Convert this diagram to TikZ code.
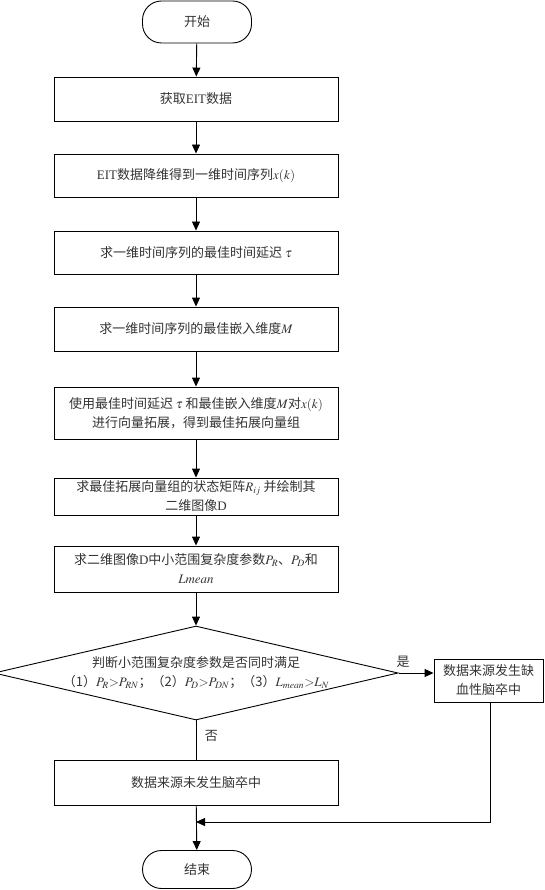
\documentclass[tikz,border=0pt]{standalone}
\usepackage{mathptmx}
\usepackage{fontspec}
\setmainfont{Liberation Serif}
\newfontfamily\cjk{Noto Sans CJK SC}
\usetikzlibrary{shapes.geometric}
\usetikzlibrary{arrows.meta}
\newcommand{\latn}[1]{{\rmfamily #1}}

\begin{document}
\begin{tikzpicture}[x=1pt,y=1pt,line width=0.9pt,
  box/.style={rectangle,draw,minimum width=284pt,align=center,inner sep=2pt,font=\cjk\fontsize{13}{19}\selectfont,text=black!80},
  term/.style={rectangle,rounded corners=19pt,draw,minimum width=109pt,font=\cjk\fontsize{13}{16}\selectfont,text=black!80},
  check/.style={diamond,draw,shape aspect=4.3,inner sep=0pt,minimum width=388pt,minimum height=90pt,align=center,font=\cjk\fontsize{13}{19}\selectfont,text=black!80},
  lbl/.style={font=\cjk\fontsize{13}{16}\selectfont,text=black!80},
  arr/.style={-{Triangle[length=9pt,width=8pt]}}]
\useasboundingbox (0,0) rectangle (545,-890);

\node [term,minimum height=42pt] (start) at (197,-22) {开始};
\node [box,minimum height=44pt] (get) at (196,-99) {获取\latn{EIT}数据};
\node [box,minimum height=43pt] (reduce) at (196,-175.5) {\latn{EIT}数据降维得到一维时间序列$x(k)$};
\node [box,minimum height=43pt] (tau) at (196,-252.5) {求一维时间序列的最佳时间延迟 $\tau$};
\node [box,minimum height=44pt] (dim) at (196,-329) {求一维时间序列的最佳嵌入维度$M$};
\node [box,minimum height=52pt] (expand) at (196,-413) {使用最佳时间延迟 $\tau$ 和最佳嵌入维度$M$对$x(k)$\\进行向量拓展，得到最佳拓展向量组};
\node [box,minimum height=37pt,inner sep=0pt] (state) at (196,-496.5) {求最佳拓展向量组的状态矩阵$R_{ij}$ 并绘制其\\二维图像\latn{D}};
\node [box,minimum height=46pt,inner sep=0pt] (param) at (196,-569) {求二维图像\latn{D}中小范围复杂度参数$P_R$、$P_D$和\\$Lmean$};
\node [check] (judge) at (196,-673) {判断小范围复杂度参数是否同时满足\\（1）$P_R{>}P_{RN}$；（2）$P_D{>}P_{DN}$；（3）$L_{mean}{>}L_N$};
\node [box,minimum width=109pt,minimum height=43pt,inner sep=0pt] (yes) at (488.5,-680.5) {数据来源发生缺\\血性脑卒中};
\node [box,minimum height=45pt] (no) at (196,-782.5) {数据来源未发生脑卒中};
\node [term,minimum height=38pt] (end) at (197,-869.5) {结束};
\coordinate (join) at (196,-822);

\draw [arr] (start) -- (get);
\draw [arr] (get) -- (reduce);
\draw [arr] (reduce) -- (tau);
\draw [arr] (tau) -- (dim);
\draw [arr] (dim) -- (expand);
\draw [arr] (expand) -- (state);
\draw [arr] (state) -- (param);
\draw [arr] (param) -- (judge);
\draw [arr] (judge.east) -- (judge.east -| yes.west);
\draw (judge.south) -- node [lbl,right=5pt,pos=0.4] {否} (no.north);
\draw [arr] (no) -- (end);
\draw [arr] (yes.south -| 490,0) |- (join);
\node [lbl] (yeslabel) at (403,-662) {是};
\end{tikzpicture}
\end{document}
